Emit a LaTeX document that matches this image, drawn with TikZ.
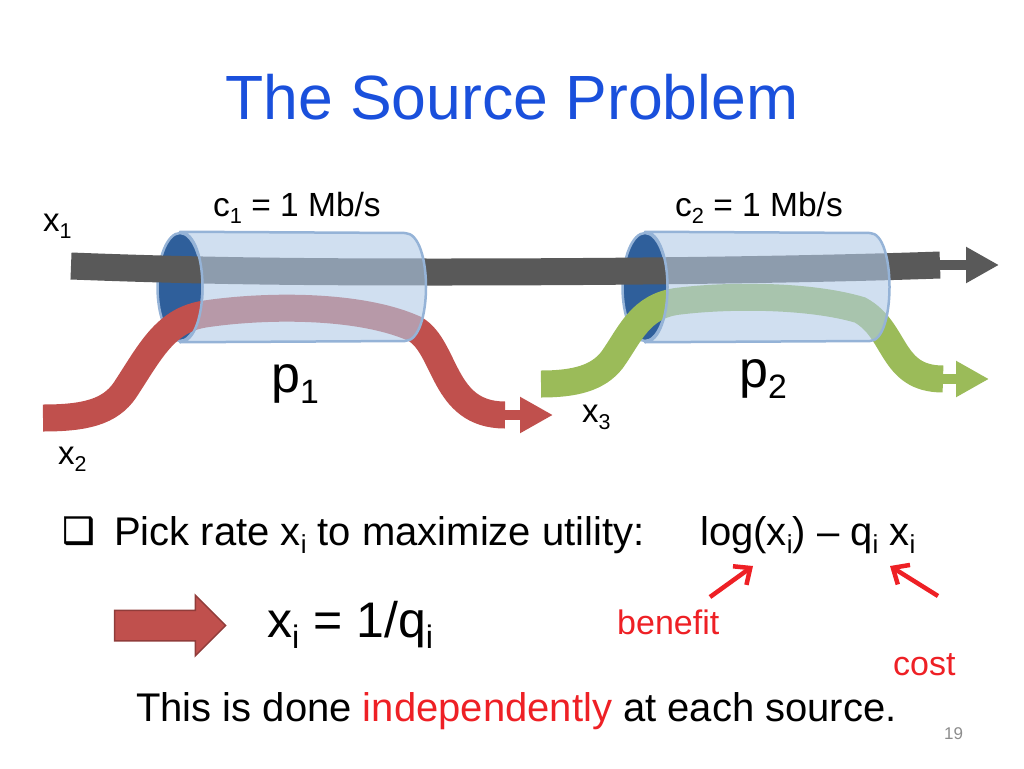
\documentclass[tikz,border=0pt]{standalone}
\usepackage{fontspec}
\setmainfont{Liberation Sans}
\newfontfamily\symfont[FakeBold=1.6]{DejaVu Sans}
\usetikzlibrary{shapes,arrows.meta,positioning}
\definecolor{titleblue}{HTML}{1A50DC}
\definecolor{flowgray}{HTML}{595959}
\definecolor{flowred}{HTML}{C0504D}
\definecolor{flowgreen}{HTML}{9BBB59}
\definecolor{pipeblue}{HTML}{B1CAE6}
\definecolor{pipeline}{HTML}{95B3D7}
\definecolor{capblue}{HTML}{2F5F9B}
\definecolor{notered}{HTML}{EE2025}
\newcommand{\lowtxt}[1]{\raisebox{-0.22em}{\scalebox{0.65}{#1}}}
\tikzset{
  txt/.style={anchor=base west, inner sep=0pt, text=black},
  flow/.style={line width=27pt},
  shaft/.style={line width=10pt, -{Triangle[length=33pt,width=34pt]}},
  pipecap/.style={draw=pipeline, line width=2.5pt, fill=capblue, ellipse, inner sep=0pt, minimum width=45pt, minimum height=108pt},
  pipe/.style={draw=pipeline, line width=2.5pt, fill=pipeblue, fill opacity=0.6, line join=round},
  notearrow/.style={notered, line width=4.5pt, -{Straight Barb[length=13pt,width=23pt]}}
}
\begin{document}
\begin{tikzpicture}[x=1pt,y=-1pt]
\useasboundingbox (0,0) rectangle (1024,768);
\node[txt, text=titleblue, font=\fontsize{62.5}{70}\selectfont] (title) at (225,119) {The Source Problem};
%============
\node[pipecap] (capA) at (180,287) {};
\node[pipecap] (capB) at (645,287) {};
%============
\coordinate (grayStart) at (71,266);
\coordinate (grayEnd) at (940,265);
\coordinate (grayTip) at (999,265);
\coordinate (redStart) at (43,418);
\coordinate (redEnd) at (505,415);
\coordinate (redTip) at (553,415);
\coordinate (greenStart) at (541,384);
\coordinate (greenEnd) at (943,379);
\coordinate (greenTip) at (989,379);

\draw[flow, flowgray] (grayStart) .. controls (200,271) and (300,272) .. (440,272) .. controls (600,272) and (800,270) .. (grayEnd);
\draw[shaft, flowgray] (grayEnd) -- (grayTip);

\draw[flow, flowred] (redStart) .. controls (85,418) and (110,412) .. (125,390) .. controls (150,352) and (165,320) .. (205,314) .. controls (265,305) and (360,304) .. (415,329) .. controls (447,348) and (442,415) .. (redEnd);
\draw[shaft, flowred] (redEnd) -- (redTip);

\draw[flow, flowgreen] (greenStart) .. controls (575,384) and (598,378) .. (612,360) .. controls (630,335) and (640,305) .. (680,301) .. controls (730,295) and (810,295) .. (860,310) .. controls (897,330) and (890,379) .. (greenEnd);
\draw[shaft, flowgreen] (greenEnd) -- (greenTip);
%============
\draw[pipe] (capA.north) -- (405,233) .. controls (433,233) and (433,341) .. (405,341) -- (capA.south) .. controls (210,341) and (210,233) .. (capA.north) -- cycle;
\draw[pipe] (capB.north) -- (870,233) .. controls (896,233) and (896,341) .. (870,341) -- (capB.south) .. controls (675,341) and (675,233) .. (capB.north) -- cycle;
%============
\node[txt, font=\fontsize{33.5}{40}\selectfont] (capOne) at (213,216) {c\lowtxt{1} = 1 Mb/s};
\node[txt, font=\fontsize{33.5}{40}\selectfont] (capTwo) at (675,216) {c\lowtxt{2} = 1 Mb/s};
\node[txt, font=\fontsize{33}{40}\selectfont] (xOne) at (43,231) {x\lowtxt{1}};
\node[txt, font=\fontsize{33}{40}\selectfont] (xTwo) at (58,464) {x\lowtxt{2}};
\node[txt, font=\fontsize{33}{40}\selectfont] (xThree) at (582,422) {x\lowtxt{3}};
\node[txt, font=\fontsize{52}{60}\selectfont] (pOne) at (271,392) {p\lowtxt{1}};
\node[txt, font=\fontsize{52}{60}\selectfont] (pTwo) at (739,387) {p\lowtxt{2}};
%============
\node[txt, font=\symfont\fontsize{36}{40}\selectfont] (bullet) at (62,543) {❑};
\node[txt, font=\fontsize{40}{48}\selectfont] (pick) at (114,545) {Pick rate x\lowtxt{i} to maximize utility:};
\node[txt, font=\fontsize{40}{48}\selectfont] (utility) at (700,545) {log(x\lowtxt{i}) – q\lowtxt{i} x\lowtxt{i}};

\node[single arrow, draw=flowred!75!black, line width=1.5pt, fill=flowred, inner xsep=0pt, inner ysep=14.5pt, minimum height=111pt, single arrow head extend=15pt] (bigArrow) at (162.5,625.5) {};
\node[txt, font=\fontsize{50}{56}\selectfont] (rate) at (267,637) {x\lowtxt{i} = 1/q\lowtxt{i}};

\node[txt, text=notered, font=\fontsize{34}{40}\selectfont] (benefit) at (617,634) {benefit};
\node[txt, text=notered, font=\fontsize{34}{40}\selectfont] (cost) at (893,675) {cost};
\coordinate (benefitFrom) at (710,597);
\coordinate (benefitTo) at (753,566);
\coordinate (costFrom) at (938,596);
\coordinate (costTo) at (890,566);
\draw[notearrow] (benefitFrom) -- (benefitTo);
\draw[notearrow] (costFrom) -- (costTo);

\node[txt, font=\fontsize{40}{48}\selectfont] (closing) at (136,721) {This is done \textcolor{notered}{independently} at each source.};
\node[txt, text=black!45, font=\fontsize{17}{20}\selectfont] (pageno) at (944,739) {19};
\end{tikzpicture}
\end{document}
